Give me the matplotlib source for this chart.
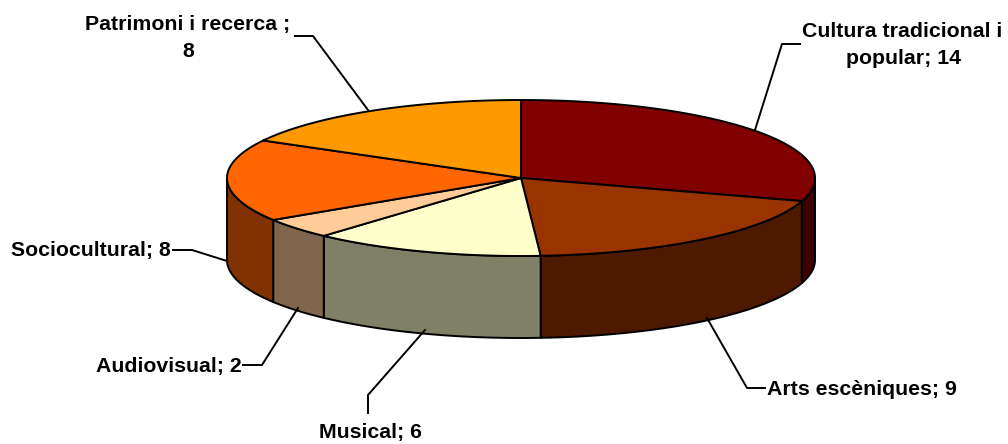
import numpy as np
import matplotlib
matplotlib.use("Agg")
import matplotlib.pyplot as plt
from matplotlib.patches import Polygon
from matplotlib.colors import to_rgb

# Data
categories = ["Cultura tradicional i popular", "Arts escèniques", "Musical",
              "Audiovisual", "Sociocultural", "Patrimoni i recerca "]
values = [14, 9, 6, 2, 8, 8]
top_colors = ["#800000", "#993300", "#FFFFCC", "#FFCC99", "#FF6600", "#FF9900"]

# label lines, with anchor (x, baseline y, ha) in pixel coords
label_lines = [
    [("Cultura tradicional i", 902, 37), ("popular; 14", 903, 64)],
    [("Arts escèniques; 9", 767, 395)],
    [("Musical; 6", 370, 438)],
    [("Audiovisual; 2", 242, 372)],
    [("Sociocultural; 8", 171, 256)],
    [("Patrimoni i recerca ;", 188, 30), ("8", 188, 57)],
]
label_ha = ["center", "left", "center", "right", "right", "center"]
leaders = [
    [(800, 44), (782, 44), (755, 130)],
    [(765, 388), (747, 388), (707, 318)],
    [(368, 413), (368, 395), (425, 330)],
    [(243, 365), (262, 365), (298, 308)],
    [(173, 250), (192, 250), (227, 261)],
    [(295, 36), (313, 36), (368, 110)],
]

W, H = 1008, 444
fig = plt.figure(figsize=(W / 100, H / 100), dpi=100)
ax = fig.add_axes([0, 0, 1, 1])
ax.set_xlim(0, W)
ax.set_ylim(H, 0)
ax.axis("off")

cx, cy, rx, ry, depth = 521, 178, 294, 78, 82
lw = 1.4

def pt(theta_deg, dy=0.0):
    t = np.radians(theta_deg)
    return cx + rx * np.sin(t), cy - ry * np.cos(t) + dy

total = sum(values)
bounds = np.concatenate([[0], np.cumsum(values)]) / total * 360.0

# sides
for i, v in enumerate(values):
    a0, a1 = bounds[i], bounds[i + 1]
    s0, s1 = max(a0, 90), min(a1, 270)
    if s1 <= s0:
        continue
    th = np.linspace(s0, s1, 100)
    topx, topy = pt(th)
    botx, boty = pt(th, depth)
    xs = np.concatenate([topx, botx[::-1]])
    ys = np.concatenate([topy, boty[::-1]])
    side_col = tuple(c * 0.5 for c in to_rgb(top_colors[i]))
    ax.add_patch(Polygon(np.column_stack([xs, ys]), closed=True, facecolor=side_col,
                         edgecolor="black", lw=lw, joinstyle="round"))

# tops
for i, v in enumerate(values):
    a0, a1 = bounds[i], bounds[i + 1]
    th = np.linspace(a0, a1, 200)
    ax_, ay_ = pt(th)
    xs = np.concatenate([[cx], ax_])
    ys = np.concatenate([[cy], ay_])
    ax.add_patch(Polygon(np.column_stack([xs, ys]), closed=True, facecolor=top_colors[i],
                         edgecolor="black", lw=lw, joinstyle="round"))

# labels
for i in range(len(values)):
    for txt, x, y in label_lines[i]:
        ax.text(x, y, txt, ha=label_ha[i], va="baseline", fontsize=15.3,
                fontweight="bold", family=["Liberation Sans", "DejaVu Sans"])
    pts = np.array(leaders[i])
    ax.plot(pts[:, 0], pts[:, 1], color="black", lw=lw, solid_joinstyle="miter")

fig.savefig("out.png", dpi=100)
